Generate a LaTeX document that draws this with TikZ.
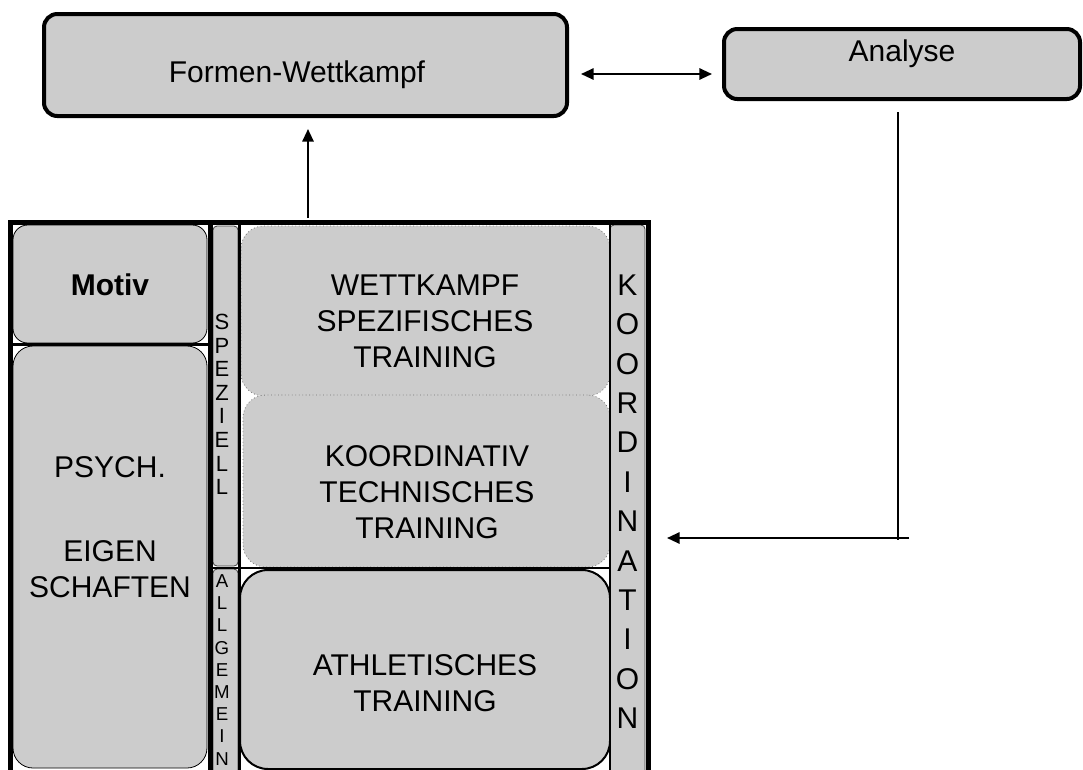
\documentclass[tikz,border=0pt]{standalone}
\usepackage{fontspec}
\setmainfont{Liberation Sans}
\usetikzlibrary{arrows.meta}
\definecolor{boxgray}{HTML}{CCCCCC}
\begin{document}
\begin{tikzpicture}[x=0.75pt,y=-0.75pt,
  every node/.style={font=\fontsize{22.5}{27}\selectfont},
  topbox/.style={draw=black, fill=boxgray, line width=3pt, rounded corners=10pt, inner sep=0pt},
  softbox/.style={draw=black, fill=boxgray, line width=0.6pt, inner sep=0pt},
  dotbox/.style={draw=black!55, dotted, fill=boxgray, line width=0.6pt, inner sep=0pt, rounded corners=17pt},
  athbox/.style={draw=black, fill=boxgray, line width=1.5pt, inner sep=0pt, rounded corners=21pt},
  stripbox/.style={draw=black!75, fill=boxgray, line width=0.6pt, rounded corners=3pt, inner sep=0pt},
  txt/.style={align=center, inner sep=0pt},
  letterA/.style={inner sep=0pt, font=\fontsize{22.5}{27}\selectfont},
  letterB/.style={inner sep=0pt, font=\fontsize{16.5}{19}\selectfont},
  letterC/.style={inner sep=0pt, font=\fontsize{14}{16}\selectfont},
  framel/.style={line width=3.75pt},
  thinl/.style={line width=1.6pt},
  arr/.style={line width=1.5pt, -{Triangle[length=9.5pt,width=8.5pt]}},
  darr/.style={line width=1.5pt, {Triangle[length=9.5pt,width=8.5pt]}-{Triangle[length=9.5pt,width=8.5pt]}},
]
\useasboundingbox (0,0) rectangle (1083,769);
\clip (0,0) rectangle (1083,769);
\fill[white] (0,0) rectangle (1083,769);

% top boxes
\node[topbox, minimum width=392.25pt, minimum height=76.5pt] (formen) at (305.5,65) {};
\node[txt] (formenT) at (297,75) {Formen-Wettkampf};
\node[topbox, minimum width=267pt, minimum height=52.5pt] (analyse) at (902,64) {};
\node[txt] (analyseT) at (902,54) {Analyse};

% boxes inside the frame
\node[softbox, rounded corners=11pt, minimum width=145.5pt, minimum height=88.5pt] (motiv) at (110,284) {};
\node[softbox, rounded corners=15pt, minimum width=145.5pt, minimum height=316.5pt] (psych) at (110,557) {};
\node[stripbox, minimum width=18.75pt, minimum height=255pt] (spez) at (225.5,396) {};
\node[stripbox, minimum width=18.75pt, minimum height=165.75pt] (allg) at (225.5,679.5) {};
\node[dotbox, minimum width=276.75pt, minimum height=127.5pt] (wett) at (425.5,311) {};
\node[dotbox, minimum width=275.25pt, minimum height=129pt] (koord) at (426.5,481) {};
\node[athbox, minimum width=277.5pt, minimum height=149.25pt] (athl) at (425,669.5) {};
\node[stripbox, minimum width=26.25pt, minimum height=423.75pt] (koordination) at (627.5,507.5) {};

% frame lines
\draw[framel] (8,222.5) -- (651,222.5);
\draw[framel] (10.5,220) -- (10.5,775);
\draw[framel] (648,220) -- (648,775);
\draw[framel] (210.5,222) -- (210.5,775);
\draw[thinl] (239.5,222) -- (239.5,775);
\draw[thinl] (10,344.5) -- (210,344.5);
\draw[thinl] (213,568) -- (610,568);
\draw[line width=0.8pt] (610,225) -- (610,775);

% texts
\node[txt, font=\bfseries\fontsize{22.5}{27}\selectfont] (motivT) at (110,285) {Motiv};
\node[txt] (psychT) at (110,467) {PSYCH.};
\node[txt] (eigenT) at (110,569.5) {EIGEN\\SCHAFTEN};
\node[txt] (wettT) at (425,321) {WETTKAMPF\\SPEZIFISCHES\\TRAINING};
\node[txt] (koordT) at (427,492) {KOORDINATIV\\TECHNISCHES\\TRAINING};
\node[txt] (athlT) at (425,683.5) {ATHLETISCHES\\TRAINING};

\foreach \l [count=\i] in {K,O,O,R,D,I,N,A,T,I,O,N}
  \node[letterA] (ko\i) at (627.5,{285+39.4*(\i-1)}) {\l};
\foreach \l [count=\i] in {S,P,E,Z,I,E,L,L}
  \node[letterB] (sp\i) at (222,{322+23.6*(\i-1)}) {\l};
\foreach \l [count=\i] in {A,L,L,G,E,M,E,I,N}
  \node[letterC] (al\i) at (222,{581+22.2*(\i-1)}) {\l};

% connectors
\coordinate (upS) at (308,218);
\coordinate (upE) at (308,129);
\draw[arr] (upS) -- (upE);
\coordinate (dL) at (581,74);
\coordinate (dR) at (712,74);
\draw[darr] (dL) -- (dR);
\coordinate (anTop) at (898,112);
\coordinate (anBot) at (898,539.5);
\coordinate (anR) at (909,538);
\coordinate (anL) at (667,538);
\draw[line width=2.2pt] (anTop) -- (anBot);
\draw[arr] (anR) -- (anL);
\end{tikzpicture}
\end{document}
